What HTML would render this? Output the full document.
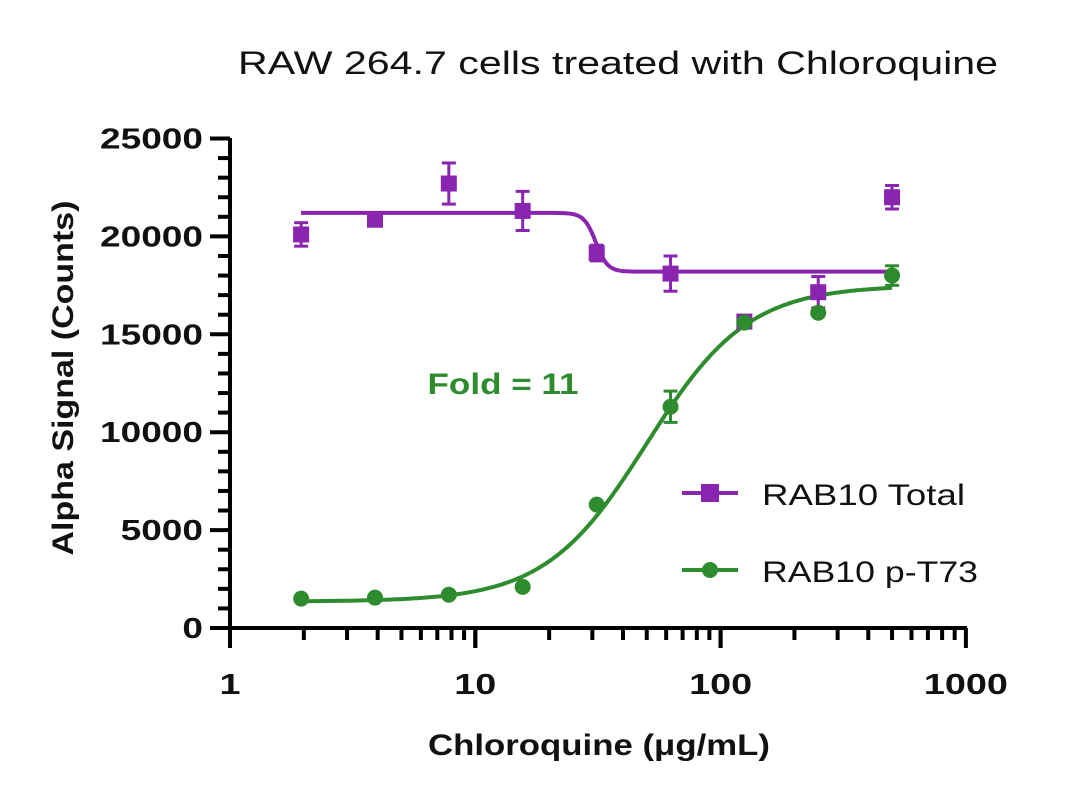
<!DOCTYPE html>
<html><head><meta charset="utf-8"><style>body{margin:0;background:#fff}svg{display:block}</style></head>
<body>
<svg id="c" width="1080" height="801" xmlns="http://www.w3.org/2000/svg" font-family="Liberation Sans, sans-serif">
<text x="618" y="74" font-size="32" text-anchor="middle" textLength="760" lengthAdjust="spacingAndGlyphs" fill="#111">RAW 264.7 cells treated with Chloroquine</text>
<text x="599" y="755" font-size="30" font-weight="bold" text-anchor="middle" textLength="342" lengthAdjust="spacingAndGlyphs" fill="#111">Chloroquine (μg/mL)</text>
<text transform="translate(73,378) rotate(-90)" font-size="30" font-weight="bold" text-anchor="middle" textLength="355" lengthAdjust="spacingAndGlyphs" fill="#111">Alpha Signal (Counts)</text>
<text x="503" y="394" font-size="30" font-weight="bold" text-anchor="middle" textLength="151" lengthAdjust="spacingAndGlyphs" fill="#2e8b2e">Fold = 11</text>
<g id="axes"></g><g id="marks"></g>
<g>
<line x1="682" y1="493" x2="738" y2="493" stroke="#8a25b0" stroke-width="4"/><rect x="701" y="484" width="18" height="18" fill="#8a25b0"/>
<text x="762" y="505" font-size="30" fill="#111" textLength="203" lengthAdjust="spacingAndGlyphs">RAB10 Total</text>
<line x1="682" y1="570" x2="738" y2="570" stroke="#2e8b2e" stroke-width="4"/><circle cx="710" cy="570" r="8" fill="#2e8b2e"/>
<text x="762" y="582" font-size="30" fill="#111" textLength="216" lengthAdjust="spacingAndGlyphs">RAB10 p-T73</text>
</g>
</svg>
<script>
const conc=[1.95,3.9,7.8,15.6,31.25,62.5,125,250,500];
const totalVals=[20100,20850,22700,21300,19150,18100,15650,17150,22000];
const totalErr=[600,250,1050,1000,400,900,200,800,600];
const ptVals=[1500,1550,1700,2100,6300,11300,15600,16100,18000];
const ptErr=[0,0,0,0,0,800,0,0,500];
const yTicks=[0,5000,10000,15000,20000,25000];
const xTicks=[1,10,100,1000];
const NS='http://www.w3.org/2000/svg';
const X=v=>230+245.3*Math.log10(v), Y=v=>628-v*0.01958;
function mk(p,t,a){const e=document.createElementNS(NS,t);for(const k in a)e.setAttribute(k,a[k]);p.appendChild(e);return e;}
const ax=document.getElementById('axes'), mg=document.getElementById('marks');
let l=mk(ax,'line',{x1:230,y1:138,x2:230,y2:630,stroke:'#000','stroke-width':4});


l=mk(ax,'line',{x1:228,y1:628,x2:967,y2:628,stroke:'#000','stroke-width':4});


for(let v=0;v<=25000;v+=1000){const maj=v%5000==0;mk(ax,'line',{x1:maj?210:218,x2:230,y1:Y(v),y2:Y(v),stroke:'#000','stroke-width':4});}
yTicks.forEach(v=>{const s=String(v);const t=mk(ax,'text',{x:203,y:Y(v)+10,'font-size':29,'font-weight':'bold','text-anchor':'end',fill:'#111',textLength:s.length*20.6,lengthAdjust:'spacingAndGlyphs'});t.textContent=s;

});
for(let d=1;d<1000;d*=10)for(let m=1;m<=10;m++){const v=d*m;if(v>1000)break;const maj=m==1||m==10;mk(ax,'line',{x1:X(v),x2:X(v),y1:628,y2:maj?648:640,stroke:'#000','stroke-width':4});}
xTicks.forEach(v=>{const s=String(v);const t=mk(ax,'text',{x:X(v),y:694,'font-size':29,'font-weight':'bold','text-anchor':'middle',fill:'#111',textLength:s.length*21,lengthAdjust:'spacingAndGlyphs'});t.textContent=s;

});
function curve(f,col,name){let d='';for(let i=0;i<=300;i++){const lx=Math.log10(1.95)+i/300*(Math.log10(500)-Math.log10(1.95));d+=(i?'L':'M')+X(10**lx).toFixed(1)+','+Y(f(10**lx)).toFixed(1);}
const p=mk(mg,'path',{d:d,fill:'none',stroke:col,'stroke-width':4});

}
curve(x=>18200+3000/(1+Math.pow(x/31,18)),'#8a25b0','fit-curve-total');
curve(x=>1350+16150/(1+Math.pow(50/x,2.1)),'#2e8b2e','fit-curve-pt73');
function err(x,v,e,col){if(!e)return;const a=X(x);const y1=Y(v-e),y2=Y(v+e);mk(mg,'line',{x1:a,x2:a,y1:y1,y2:y2,stroke:col,'stroke-width':3});mk(mg,'line',{x1:a-7,x2:a+7,y1:y1,y2:y1,stroke:col,'stroke-width':3});mk(mg,'line',{x1:a-7,x2:a+7,y1:y2,y2:y2,stroke:col,'stroke-width':3});}
conc.forEach((c,i)=>{err(c,totalVals[i],totalErr[i],'#8a25b0');
const r=mk(mg,'rect',{x:X(c)-8,y:Y(totalVals[i])-8,width:16,height:16,fill:'#8a25b0'});

});
conc.forEach((c,i)=>{err(c,ptVals[i],ptErr[i],'#2e8b2e');
const ci=mk(mg,'circle',{cx:X(c),cy:Y(ptVals[i]),r:8,fill:'#2e8b2e'});

});
</script>
</body></html>
